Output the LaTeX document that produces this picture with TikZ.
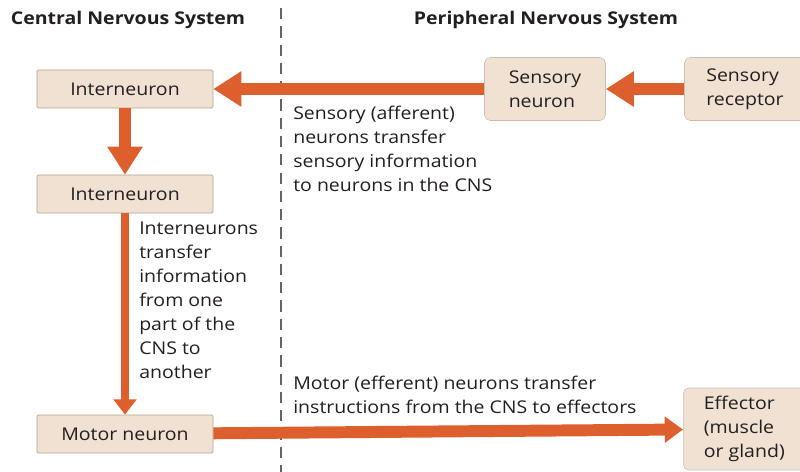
\documentclass[tikz,border=0pt]{standalone}
\usepackage{fontspec}
\setmainfont{Open Sans}[FakeStretch=1.11]
\usetikzlibrary{arrows.meta}
\definecolor{boxFill}{RGB}{240,225,210}
\definecolor{boxLine}{RGB}{185,160,140}
\definecolor{nerveOrange}{RGB}{220,95,45}
\definecolor{textGray}{RGB}{35,31,32}
\begin{document}
\begin{tikzpicture}[
    x=0.025cm, y=-0.025cm,
    every node/.style={font=\fontsize{12.5}{17}\selectfont, text=textGray},
    cnsBox/.style={fill=boxFill, draw=boxLine, line width=0.4pt, rounded corners=1pt,
        minimum width=4.4cm, minimum height=0.95cm, inner sep=0pt},
    pnsBox/.style={fill=boxFill, draw=boxLine!70, line width=0.4pt, rounded corners=4pt,
        minimum width=3.025cm, minimum height=1.575cm, align=left, inner sep=0pt},
    nerveArrow/.style={draw=nerveOrange, line width=8.5pt,
        -{Triangle[width=24pt, length=20pt]}},
    thinNerve/.style={draw=nerveOrange, line width=6pt,
        -{Triangle[width=16pt, length=11pt]}},
    noteText/.style={align=left, anchor=north west, inner sep=0pt},
    headText/.style={font=\fontsize{12.5}{15}\selectfont\bfseries},
]
\useasboundingbox (0,0) rectangle (800,472);

% divider
\draw[textGray!70, line width=0.8pt, dash pattern=on 8pt off 5pt] (281,8) -- (281,472);

% headings
\node[headText] (cnsHead) at (128,20) {Central Nervous System};
\node[headText] (pnsHead) at (546,20) {Peripheral Nervous System};

% boxes
\node[cnsBox] (inter1) at (125,89) {Interneuron};
\node[cnsBox] (inter2) at (125,194) {Interneuron};
\node[cnsBox] (motor) at (125,434) {Motor neuron};
\node[pnsBox] (sensN) at (545,89) {Sensory\\neuron};
\node[pnsBox] (sensR) at (745,89) {Sensory\\receptor};
\node[pnsBox, minimum height=2.05cm, minimum width=3.05cm, anchor=west] (effector) at (683,429) {Effector\\(muscle\\or gland)};

% pathways
\draw[nerveArrow] (sensR) -- (sensN);
\draw[nerveArrow] (sensN) -- (inter1);
\draw[nerveArrow] (inter1) -- (inter2);
\draw[thinNerve] (inter2) -- (motor);
\draw[nerveArrow, -{Triangle[width=18pt, length=13pt]}] (motor) -- (effector);

% notes
\node[noteText] (sensNote) at (293,106) {Sensory (afferent)\\neurons transfer\\sensory information\\to neurons in the CNS};
\node[noteText] (interNote) at (139,222) {Interneurons\\transfer\\information\\from one\\part of the\\CNS to\\another};
\node[noteText] (motorNote) at (293,376) {Motor (efferent) neurons transfer\\instructions from the CNS to effectors};
\end{tikzpicture}
\end{document}
